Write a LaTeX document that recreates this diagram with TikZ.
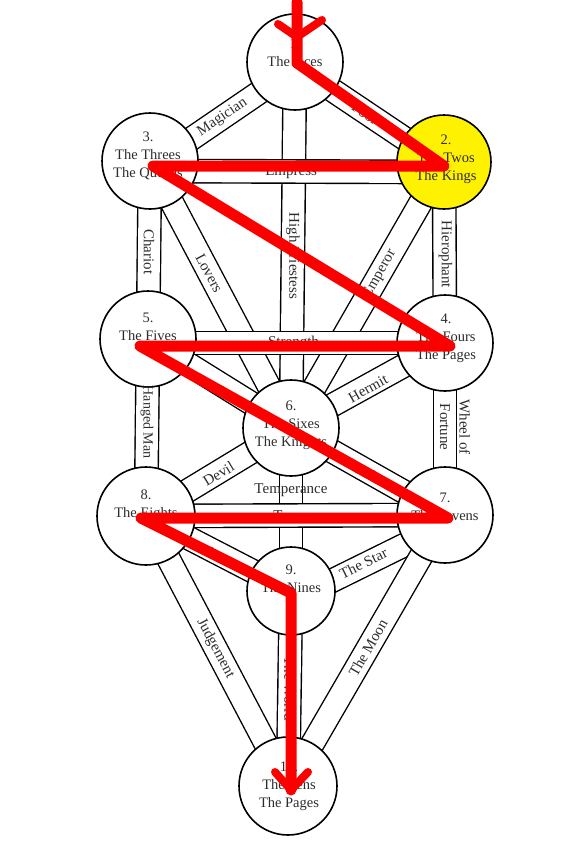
\documentclass[tikz,border=0pt]{standalone}
\usepackage{fontspec}
\setmainfont{Liberation Serif}
\usetikzlibrary{calc}
\definecolor{txtc}{RGB}{45,45,45}
\definecolor{flashred}{RGB}{252,0,0}
\definecolor{sefyellow}{RGB}{255,242,0}
\newcommand{\ctxtfont}{\fontsize{14.5}{18}\selectfont}
\newcommand{\lblfont}{\fontsize{15}{19.5}\selectfont}
\newcommand{\smlblfont}{\fontsize{14}{19.5}\selectfont}
\pgfdeclarelayer{paperlayer}
\pgfdeclarelayer{bandlayer}
\pgfsetlayers{paperlayer,bandlayer,main}
\tikzset{
  sef/.style={circle, draw=black, line width=1.6pt, fill=white, minimum size=96pt, inner sep=0pt},
  band/.style={draw=black, line width=1.4pt, double=white, double distance=22pt},
  ctext/.style={font=\ctxtfont, align=center, text=txtc, inner sep=0pt},
  lbl/.style={font=\lblfont, align=center, text=txtc, inner sep=0pt},
  flash/.style={draw=flashred, line width=11pt, line cap=round, line join=round},
  flashhead/.style={draw=flashred, line width=8pt, line cap=round, line join=round},
}
\begin{document}
\begin{tikzpicture}[x=1pt,y=-1pt]
\useasboundingbox (0,0) rectangle (584,860);
\begin{pgfonlayer}{paperlayer}
  \fill[white] (0,0) rectangle (584,860);
\end{pgfonlayer}

% sephiroth
\node[sef] (n1) at (295,62) {};
\node[sef, fill=sefyellow, minimum size=94pt] (n2) at (444,162) {};
\node[sef] (n3) at (150,161) {};
\node[sef] (n4) at (445,343) {};
\node[sef] (n5) at (148,339) {};
\node[sef] (n6) at (291,428) {};
\node[sef] (n7) at (445,515) {};
\node[sef, minimum size=98pt] (n8) at (146,516) {};
\node[sef, minimum size=88pt] (n9) at (291,591) {};
\node[sef, minimum size=98pt] (n10) at (288,786) {};

% texts in the circles
\node[ctext] (t1) at ($(n1.center)+(0,-9)$) {1.\\The Aces};
\node[ctext] (t2) at ($(n2.center)+(2,-3)$) {2.\\The Twos\\The Kings};
\node[ctext] (t3) at ($(n3.center)+(-2,-5)$) {3.\\The Threes\\The Queens};
\node[ctext] (t4) at ($(n4.center)+(1,-5)$) {4.\\The Fours\\The Pages};
\node[ctext] (t5) at ($(n5.center)+(0,-12)$) {5.\\The Fives};
\node[ctext] (t6) at ($(n6.center)+(0,-3)$) {6.\\The Sixes\\The Knights};
\node[ctext] (t7) at ($(n7.center)+(0,-8)$) {7.\\The Sevens};
\node[ctext] (t8) at ($(n8.center)+(0,-11)$) {8.\\The Eights};
\node[ctext] (t9) at ($(n9.center)+(0,-12)$) {9.\\The Nines};
\node[ctext] (t10) at ($(n10.center)+(1,0)$) {10.\\The Tens\\The Pages};

% paths (bands)
\begin{pgfonlayer}{bandlayer}
  \draw[band] ([yshift=-6pt]n3.center) -- ([yshift=-6pt]n1.center);
  \draw[band] ([yshift=-3pt]n1.center) -- ([yshift=-3pt]n2.center);
  \draw[band] (n1.center) -- (n6.center);
  \draw[band] (n2.center) -- (n4.center);
  \draw[band] (n3.center) -- (n5.center);
  \draw[band] (n3.center) -- (n6.center);
  \draw[band] (n2.center) -- (n6.center);
  \draw[band] (n5.center) -- (n6.center);
  \draw[band] (n4.center) -- (n6.center);
  \draw[band] (n4.center) -- (n7.center);
  \draw[band] (n5.center) -- (n8.center);
  \draw[band] (n6.center) -- (n8.center);
  \draw[band] (n6.center) -- (n7.center);
  \draw[band] (n6.center) -- (n9.center);
  \draw[band] (n8.center) -- (n9.center);
  \draw[band] ([yshift=-10pt]n9.center) -- ([yshift=-10pt]n7.center);
  \draw[band] (n9.center) -- (n10.center);
  \draw[band] (n8.center) -- (n10.center);
  \draw[band] (n7.center) -- (n10.center);
  \draw[band] ([yshift=-10pt]n3.center) -- ([yshift=-10pt]n2.center);
  \draw[band] (n5.center |- n4.center) -- (n4.center);
  \draw[band] (n8.center) -- (n7.center);
\end{pgfonlayer}

% lightning flash coordinates
\coordinate (r0) at (297,2);
\coordinate (r1) at (297,63);
\coordinate (r2) at (444,166);
\coordinate (r3) at (153,166);
\coordinate (r4) at (450,346);
\coordinate (r5) at (140,346);
\coordinate (r6) at (448,518);
\coordinate (r7) at (141,518);
\coordinate (r8) at (291,593);
\coordinate (r9) at (291,790);
\coordinate (ha1) at (278,24);
\coordinate (ha2) at (297,37);
\coordinate (ha3) at (322,20);
\coordinate (hb1) at (275,772);
\coordinate (hb2) at (291,790);
\coordinate (hb3) at (308,772);

% path labels
\node[lbl, rotate=34] (lmag) at ($(n3.center)!0.5!(n1.center)+(0,6)$) {Magician};
\node[lbl, rotate=-34] (lfool) at ($(n1.center)!0.47!(n2.center)+(0,4)$) {Fool};
\node[lbl] (lemp) at ($(n3.center)!0.48!(n2.center)+(0,11)$) {Empress};
\node[lbl, rotate=-90] (lhp) at ($(n1.center)!0.53!(n6.center)$) {High Priestess};
\node[lbl, rotate=-90] (lhie) at ($(n2.center)!0.51!(n4.center)+(1,0)$) {Hierophant};
\node[lbl, rotate=-90] (lcha) at ($(n3.center)!0.51!(n5.center)$) {Chariot};
\node[lbl, rotate=-62] (llov) at ($(n3.center)!0.42!(n6.center)$) {Lovers};
\node[lbl, rotate=60] (lempr) at ($(n2.center)!0.42!(n6.center)$) {Emperor};
\node[lbl] (lstr) at ($(n5.center |- n4.center)!0.49!(n4.center)$) {Strength};
\node[lbl, rotate=29] (lher) at ($(n4.center)!0.5!(n6.center)+(0,3)$) {Hermit};
\node[lbl, rotate=-29.2] (ljus) at ($(r5)!0.25!(r6)$) {Justice};
\node[lbl, rotate=-90] (lwhe) at ($(n4.center)!0.49!(n7.center)+(10,0)$) {Wheel of\\Fortune};
\node[lbl, font=\smlblfont, rotate=-90] (lhan) at ($(n5.center)!0.47!(n8.center)$) {Hanged Man};
\node[lbl, rotate=31] (ldev) at ($(n8.center)!0.5!(n6.center)+(0,2)$) {Devil};
\node[lbl, rotate=-29.5] (ldea) at ($(n6.center)!0.46!(n7.center)+(0,2)$) {Death};
\node[lbl] (ltem) at ($(n6.center)!0.38!(n9.center)$) {Temperance};
\node[lbl] (ltow) at ($(n8.center)!0.49!(n7.center)$) {Tower};
\node[lbl, rotate=26] (lsta) at ($(n9.center)!0.47!(n7.center)+(0,8)$) {The Star};
\node[lbl, rotate=-26.6] (lsun) at ($(r7)!0.55!(r8)$) {The Sun};
\node[lbl, rotate=60] (lmoo) at ($(n10.center)!0.51!(n7.center)$) {The Moon};
\node[lbl, rotate=-62] (ljud) at ($(n8.center)!0.49!(n10.center)$) {Judgement};
\node[lbl, rotate=-90] (lwor) at ($(n9.center)!0.5!(n10.center)$) {The World};

% lightning flash
\draw[flash] (r0) -- (r1) -- (r2) -- (r3) -- (r4) -- (r5) -- (r6) -- (r7) -- (r8) -- (r9);
\draw[flashhead] (ha1) -- (ha2) -- (ha3);
\draw[flashhead] (hb1) -- (hb2) -- (hb3);
\end{tikzpicture}
\end{document}
